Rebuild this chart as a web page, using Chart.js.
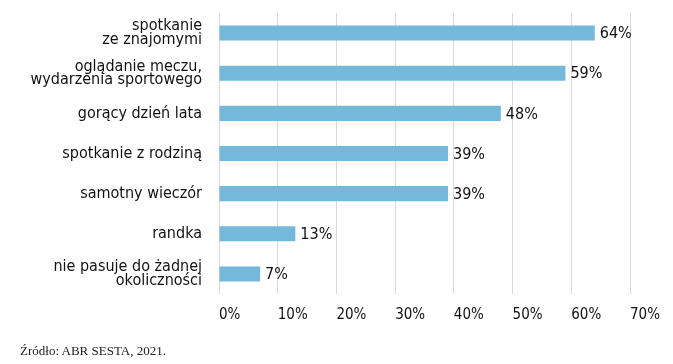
<!DOCTYPE html>
<html lang="pl">
<head>
<meta charset="utf-8">
<script src="https://cdn.jsdelivr.net/npm/chart.js@4.4.1/dist/chart.umd.min.js"></script>
<style>
  html, body { margin: 0; padding: 0; background: #fff; }
  #wrap { position: relative; width: 673px; height: 364px; }
  #source {
    position: absolute; left: 20px; top: 343px;
    font-family: "Liberation Serif", "DejaVu Serif", serif;
    font-size: 13px; color: #222;
  }
</style>
</head>
<body>
<div id="wrap">
  <canvas id="chart" width="673" height="364"></canvas>
  <div id="source">Źródło: ABR SESTA, 2021.</div>
</div>
<script>
/* global Chart */

// categories top to bottom
const CATEGORIES = [
  ["spotkanie", "ze znajomymi"],
  ["oglądanie meczu,", "wydarzenia sportowego"],
  "gorący dzień lata",
  "spotkanie z rodziną",
  "samotny wieczór",
  "randka",
  ["nie pasuje do żadnej", "okoliczności"],
];
const VALUES = [64, 59, 48, 39, 39, 13, 7];
const X_TICKS = [0, 10, 20, 30, 40, 50, 60, 70];

const BAR_COLOR = "#74b8da";
const GRID_COLOR = "#d9d9d9";
const TEXT_COLOR = "#111";
const FONT_FAMILY = "'DejaVu Sans Condensed', 'DejaVu Sans', sans-serif";

// writes "64%" etc. just past the end of each bar
const valueLabels = {
  id: "valueLabels",
  afterDatasetsDraw(chart) {
    const { ctx } = chart;
    const meta = chart.getDatasetMeta(0);
    ctx.save();
    ctx.font = "16px " + FONT_FAMILY;
    ctx.fillStyle = TEXT_COLOR;
    ctx.textAlign = "left";
    ctx.textBaseline = "middle";
    meta.data.forEach((bar, i) => {
      ctx.fillText(VALUES[i] + "%", bar.x + 5, bar.y + 1);
    });
    ctx.restore();
  },
};

new Chart(document.getElementById("chart").getContext("2d"), {
  type: "bar",
  data: {
    labels: CATEGORIES,
    datasets: [{
      data: VALUES,
      backgroundColor: BAR_COLOR,
      barPercentage: 0.75,
      categoryPercentage: 0.5,
    }],
  },
  options: {
    indexAxis: "y",
    responsive: false,
    animation: false,
    layout: { padding: { top: 13, right: 43, bottom: 28, left: 0 } },
    plugins: {
      legend: { display: false },
      tooltip: { enabled: false },
    },
    scales: {
      x: {
        min: 0,
        max: 70,
        afterBuildTicks: (scale) => { scale.ticks = X_TICKS.map((v) => ({ value: v })); },
        grid: { color: GRID_COLOR, drawTicks: false },
        border: { display: false },
        ticks: {
          align: "start",
          padding: 12,
          color: TEXT_COLOR,
          font: { family: FONT_FAMILY, size: 15 },
          callback: (v) => v + "%",
        },
      },
      y: {
        afterFit: (scale) => {
          scale.width = 219;
          // labels sit inside the category bands, no extra room needed
          scale.paddingTop = 0;
          scale.paddingBottom = 0;
        },
        grid: { display: false, drawTicks: false },
        border: { display: false },
        ticks: {
          padding: 17,
          color: TEXT_COLOR,
          font: { family: FONT_FAMILY, size: 16, lineHeight: 0.85 },
        },
      },
    },
  },
  plugins: [valueLabels],
});
</script>
</body>
</html>
